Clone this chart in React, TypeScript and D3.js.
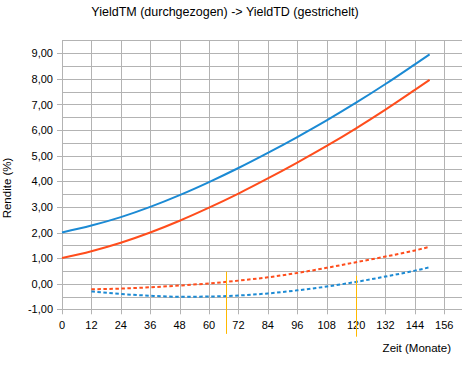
import React from "react";
import * as d3 from "d3";

const months = [0, 12, 24, 36, 48, 60, 72, 84, 96, 108, 120, 132, 144, 150];
const yieldTMBlue = [2.0, 2.27, 2.6, 3.0, 3.46, 3.97, 4.52, 5.11, 5.73, 6.38, 7.07, 7.8, 8.57, 8.96];
const yieldTMRed = [1.0, 1.27, 1.6, 2.0, 2.46, 2.97, 3.52, 4.11, 4.73, 5.38, 6.07, 6.8, 7.57, 7.96];
const monthsTD = [12, 24, 36, 48, 60, 72, 84, 96, 108, 120, 132, 144, 150];
const yieldTDRed = [-0.22, -0.19, -0.14, -0.07, 0.01, 0.12, 0.25, 0.42, 0.62, 0.84, 1.06, 1.3, 1.44];
const yieldTDBlue = [-0.3, -0.4, -0.47, -0.51, -0.5, -0.46, -0.38, -0.26, -0.11, 0.07, 0.28, 0.51, 0.64];
const xTicks = [0, 12, 24, 36, 48, 60, 72, 84, 96, 108, 120, 132, 144, 156];
const yTicks = [-1, 0, 1, 2, 3, 4, 5, 6, 7, 8, 9];
const yGrid = d3.range(-1, 9.51, 0.5);
const markerMonths = [66.8, 120];
const markerTops = [0.47, 0.31];
const markerBottoms = [-1.96, -2.07];

const W = 462;
const H = 367;
const BLUE = "#1b8ad4";
const RED = "#ff4d1c";
const GRID = "#b3b3b3";
const FONT = "'Liberation Sans', Arial, sans-serif";

export default function App() {
  const x = d3.scaleLinear().domain([0, 156]).range([62, 444.3]);
  const y = d3.scaleLinear().domain([-1, 9]).range([309.3, 53.3]);
  const top = y(9.5);
  const bottom = y(-1);
  const right = W;

  const line = (xs: number[], ys: number[]) =>
    d3
      .line<number>()
      .x((_, i) => x(xs[i]))
      .y((v) => y(v))
      .curve(d3.curveMonotoneX)(ys) || "";

  return (
    <svg
      width={W}
      height={H}
      style={{ position: "absolute", left: 0, top: 0, background: "#fff" }}
      fontFamily={FONT}
    >
      <rect width={W} height={H} fill="#fff" />
      <text x={225} y={16} fontSize={12.5} textAnchor="middle" fill="#000">
        YieldTM (durchgezogen) -&gt; YieldTD (gestrichelt)
      </text>
      {yGrid.map((v) => (
        <line
          key={"h" + v}
          x1={Number.isInteger(v) ? 57 : x(0)}
          x2={right}
          y1={Math.round(y(v)) + 0.5}
          y2={Math.round(y(v)) + 0.5}
          stroke={GRID}
          strokeWidth={1}
        />
      ))}
      {xTicks.map((m) => (
        <line
          key={"v" + m}
          x1={Math.round(x(m)) + 0.5}
          x2={Math.round(x(m)) + 0.5}
          y1={top}
          y2={bottom + 5}
          stroke={GRID}
          strokeWidth={1}
        />
      ))}
      {yTicks.map((v) => (
        <text
          key={"yt" + v}
          x={53}
          y={y(v) + 4}
          fontSize={11}
          textAnchor="end"
          fill="#000"
        >
          {v.toFixed(2).replace(".", ",")}
        </text>
      ))}
      {xTicks.map((m) => (
        <text key={"xt" + m} x={x(m)} y={329} fontSize={11} textAnchor="middle" fill="#000">
          {m}
        </text>
      ))}
      <text x={451} y={352} fontSize={11.5} textAnchor="end" fill="#000">
        Zeit (Monate)
      </text>
      <text
        transform={`translate(11,188) rotate(-90)`}
        fontSize={11.5}
        textAnchor="middle"
        fill="#000"
      >
        Rendite (%)
      </text>
      <path d={line(months, yieldTMBlue)} fill="none" stroke={BLUE} strokeWidth={2} />
      <path d={line(months, yieldTMRed)} fill="none" stroke={RED} strokeWidth={2} />
      <path
        d={line(monthsTD, yieldTDRed)}
        fill="none"
        stroke={RED}
        strokeWidth={2}
        strokeDasharray="3.5,2.5"
      />
      <path
        d={line(monthsTD, yieldTDBlue)}
        fill="none"
        stroke={BLUE}
        strokeWidth={2}
        strokeDasharray="3.5,2.5"
      />
      {markerMonths.map((m, i) => (
        <line
          key={"mk" + m}
          x1={Math.round(x(m)) + 0.5}
          x2={Math.round(x(m)) + 0.5}
          y1={y(markerTops[i])}
          y2={y(markerBottoms[i])}
          stroke="#ffb900"
          strokeWidth={1}
        />
      ))}
    </svg>
  );
}
